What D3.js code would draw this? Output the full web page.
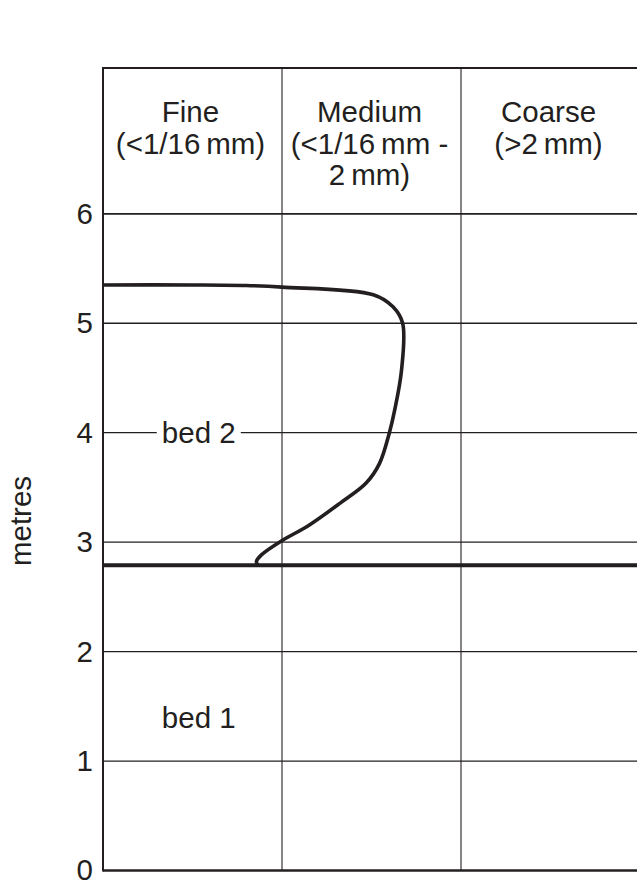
<!DOCTYPE html>
<html>
<head>
<meta charset="utf-8">
<script src="https://cdn.jsdelivr.net/npm/d3@7"></script>
<style>
  body { margin: 0; background: #fff; }
  svg text { font-family: "Liberation Sans", Arial, sans-serif; fill: #231f20; }
</style>
</head>
<body>
<div id="chart"></div>
<script>
// grain size classes (column headers, one array of lines per column)
var classes = ["Fine", "Medium", "Coarse"];
var classLines = [
  ["Fine", "(<1/16\u2009mm)"],
  ["Medium", "(<1/16\u2009mm -", "2\u2009mm)"],
  ["Coarse", "(>2\u2009mm)"]
];
var depthTicks = [0, 1, 2, 3, 4, 5, 6];
var bedBoundary = 2.79;
var beds = ["bed 1", "bed 2"];
var bedDepths = [1.4, 4];

// grain size curve of bed 2 (x in columns: 0 fine .. 3 coarse, y in metres)
var curveX = [0, 0.5, 0.8, 1.0, 1.51, 1.62, 1.674, 1.668, 1.63, 1.60, 1.545, 1.47, 1.325, 1.14, 1.0, 0.885, 0.857, 0.866];
var curveY = [5.35, 5.35, 5.345, 5.33, 5.26, 5.15, 5.0, 4.575, 4.21, 4.0, 3.72, 3.54, 3.357, 3.143, 3.015, 2.884, 2.823, 2.79];

var width = 637, height = 881;
var ink = "#231f20";
var headerTop = 68;
var fontSize = "29.5px";

var svg = d3.select("#chart").append("svg")
    .attr("width", width)
    .attr("height", height);

var x = d3.scaleLinear().domain([0, classes.length]).range([103, 640]);
var y = d3.scaleLinear().domain([0, 6]).range([870.5, 213.8]);

// horizontal grid lines
svg.append("g")
  .selectAll("line")
  .data(depthTicks.filter(function(d) { return d > 0; }))
  .enter().append("line")
    .attr("x1", x(0)).attr("x2", x(3))
    .attr("y1", function(d) { return y(d); })
    .attr("y2", function(d) { return y(d); })
    .style("stroke", ink)
    .style("stroke-width", function(d) { return d === 6 ? 1.8 : 1.3; });

// header box top
svg.append("line")
    .attr("x1", x(0)).attr("x2", x(3))
    .attr("y1", headerTop).attr("y2", headerTop)
    .style("stroke", ink).style("stroke-width", 1.8);

// column dividers
svg.append("g")
  .selectAll("line")
  .data([1, 2, 3])
  .enter().append("line")
    .attr("x1", function(d) { return x(d); })
    .attr("x2", function(d) { return x(d); })
    .attr("y1", headerTop).attr("y2", y(0))
    .style("stroke", ink).style("stroke-width", 1.1);

// column headers
var header = svg.append("g").selectAll("text")
  .data(classLines)
  .enter().append("text")
    .attr("text-anchor", "middle")
    .style("font-size", fontSize);
header.each(function(lines, i) {
  var t = d3.select(this);
  lines.forEach(function(s, j) {
    t.append("tspan")
      .attr("x", x(i + 0.5) - 2)
      .attr("y", 122 + j * 31.6)
      .text(s);
  });
});

// bed labels, with a white gap behind them
var bedG = svg.append("g").selectAll("g")
  .data(beds)
  .enter().append("g")
    .attr("transform", function(d, i) { return "translate(" + (x(0.535)) + "," + y(bedDepths[i]) + ")"; });
bedG.append("rect")
    .attr("x", -42).attr("y", -14).attr("width", 84).attr("height", 28)
    .style("fill", "#fff");
bedG.append("text")
    .attr("text-anchor", "middle")
    .attr("dy", "0.35em")
    .style("font-size", fontSize)
    .text(function(d) { return d; });

// left axis
var axis = svg.append("g")
    .attr("transform", "translate(" + x(0) + ",0)")
    .call(d3.axisLeft(y).tickValues(depthTicks).tickFormat(d3.format("d")).tickSize(0).tickPadding(10));
axis.select(".domain").remove();
axis.selectAll("text")
    .style("font-size", fontSize)
    .style("font-family", "'Liberation Sans', Arial, sans-serif")
    .attr("fill", ink);

svg.append("line")
    .attr("x1", x(0)).attr("x2", x(0))
    .attr("y1", headerTop - 0.9).attr("y2", y(0) + 1)
    .style("stroke", ink).style("stroke-width", 2);

// bottom line
svg.append("line")
    .attr("x1", x(0)).attr("x2", x(3))
    .attr("y1", y(0)).attr("y2", y(0))
    .style("stroke", ink).style("stroke-width", 2.4);

// bed boundary
svg.append("line")
    .attr("x1", x(0)).attr("x2", x(3))
    .attr("y1", y(bedBoundary)).attr("y2", y(bedBoundary))
    .style("stroke", ink).style("stroke-width", 4);

// grain size curve
var line = d3.line()
    .x(function(d) { return x(d[0]); })
    .y(function(d) { return y(d[1]); })
    .curve(d3.curveCatmullRom.alpha(0.5));
svg.append("path")
    .datum(d3.zip(curveX, curveY))
    .attr("d", line)
    .style("fill", "none")
    .style("stroke", ink)
    .style("stroke-width", 3.6);

// y title
svg.append("text")
    .attr("transform", "translate(31," + 521 + ") rotate(-90)")
    .attr("text-anchor", "middle")
    .style("font-size", fontSize)
    .text("metres");
</script>
</body>
</html>
